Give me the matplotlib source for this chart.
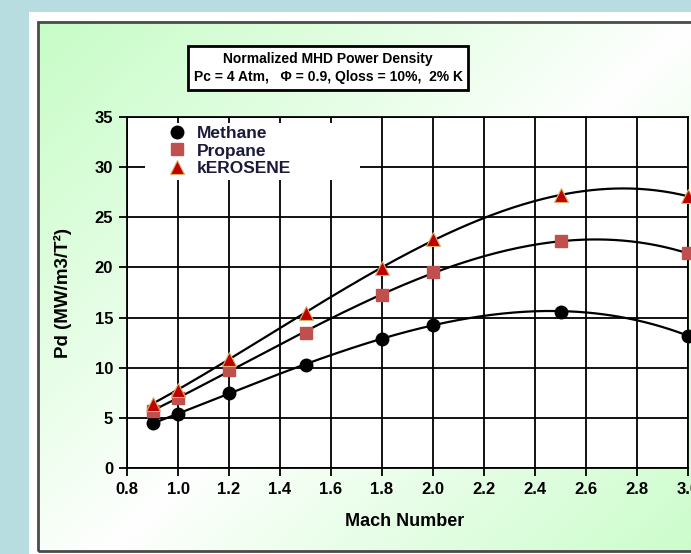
import numpy as np
import matplotlib.pyplot as plt
from matplotlib.patches import Rectangle
from matplotlib.lines import Line2D

# data
mach = [0.9, 1.0, 1.2, 1.5, 1.8, 2.0, 2.5, 3.0]
methane = [4.45, 5.4, 7.45, 10.3, 12.9, 14.3, 15.6, 13.2]
propane = [5.7, 6.95, 9.8, 13.5, 17.3, 19.5, 22.6, 21.4]
kerosene = [6.4, 7.8, 10.9, 15.5, 19.9, 22.8, 27.2, 27.1]
labels = ['Methane', 'Propane', 'kEROSENE']
xticks = [0.8, 1.0, 1.2, 1.4, 1.6, 1.8, 2.0, 2.2, 2.4, 2.6, 2.8, 3.0]
yticks = [0, 5, 10, 15, 20, 25, 30, 35]

plt.rcParams['font.family'] = ['Liberation Sans', 'DejaVu Sans']
plt.rcParams['font.weight'] = 'bold'

W, H = 691, 554
fig = plt.figure(figsize=(W / 100, H / 100), dpi=100, facecolor='#b7dde1')


def fx(px):
    return px / W


def fy(py):
    return 1 - py / H


# white mat and gradient chart area
fig.add_artist(Rectangle((fx(29), fy(560)), fx(760 - 29), (560 - 12) / H,
                         transform=fig.transFigure, fc='white', ec='none', zorder=-3))
bg = fig.add_axes([fx(38), fy(551), fx(760 - 38), (551 - 22) / H], zorder=-2)
u, v = np.meshgrid(np.linspace(0, 1, 300), np.linspace(0, 1, 300))
t = np.abs(u * 0.55 + v * 0.45 - 0.5) * 2
t = np.clip(t, 0, 1) ** 0.9
green = np.array([0.78, 0.99, 0.78])
img = 1 - (1 - green)[None, None, :] * t[:, :, None]
bg.imshow(img, aspect='auto', extent=[0, 1, 0, 1])
bg.axis('off')
fig.add_artist(Rectangle((fx(38), fy(551)), fx(760 - 38), (551 - 22) / H,
                         transform=fig.transFigure, fc='none', ec='#4a4a4a', lw=2, zorder=-1))

# plot area
ax = fig.add_axes([fx(127), fy(468), fx(688 - 127), (468 - 117) / H])
ax.set_facecolor('white')
ax.set_axisbelow(True)

xs = np.linspace(0.9, 3.0, 200)
styles = [
    dict(marker='o', color='black', mec='black', ms=9),
    dict(marker='s', color='#c0504d', mec='#c0504d', ms=9),
    dict(marker='^', color='#c00000', mec='#d9b36a', ms=10, mew=0.8),
]
for ys, st in zip([methane, propane, kerosene], styles):
    coef = np.polyfit(mach, ys, 3)
    ax.plot(xs, np.polyval(coef, xs), color='black', lw=1.6, zorder=3)
    ax.plot(mach, ys, ls='none', zorder=4, clip_on=False, **st)

ax.set_xlim(0.8, 3.0)
ax.set_ylim(0, 35)
ax.set_xticks(xticks)
ax.set_xticklabels([f'{x:.1f}' for x in xticks])
ax.set_yticks(yticks)
ax.grid(True, color='black', lw=1.3)
ax.tick_params(axis='both', direction='out', length=6, width=1.3, pad=4,
               labelsize=12, colors='black')
for s in ax.spines.values():
    s.set_linewidth(1.3)
    s.set_color('black')

ax.set_xlabel('Mach Number', fontsize=13, fontweight='bold')
ax.xaxis.label.set_va('center')
ax.xaxis.set_label_coords((405 - 127) / 561, (468 - 521) / 351)
ax.set_ylabel('Pd (MW/m3/T²)', fontsize=13.5, fontweight='bold')
ax.yaxis.label.set_va('center')
ax.yaxis.set_label_coords((63 - 127) / 561, 0.5)

# white block behind the legend
ax.add_patch(Rectangle((0.032, 0.8205), 0.383, 0.1625, transform=ax.transAxes,
                       fc='white', ec='none', zorder=1))
handles = [Line2D([], [], ls='none', **st) for st in styles]
leg = ax.legend(handles, labels, loc='upper left', bbox_to_anchor=((168 - 127) / 561, 0.975),
                frameon=False, fontsize=12.5, labelspacing=0.14, handlelength=1.0,
                handletextpad=0.65, borderpad=0, borderaxespad=0)
for txt in leg.get_texts():
    txt.set_color('#1a1a3a')
    txt.set_fontweight('bold')

fig.text(fx(328), fy(68), 'Normalized MHD Power Density\nPc = 4 Atm,   Φ = 0.9, Qloss = 10%,  2% K',
         ha='center', va='center', fontsize=10, fontweight='bold', linespacing=1.4,
         bbox=dict(boxstyle='square,pad=0.4', fc='white', ec='black', lw=2))

fig.savefig('out.png', dpi=100, facecolor=fig.get_facecolor())
